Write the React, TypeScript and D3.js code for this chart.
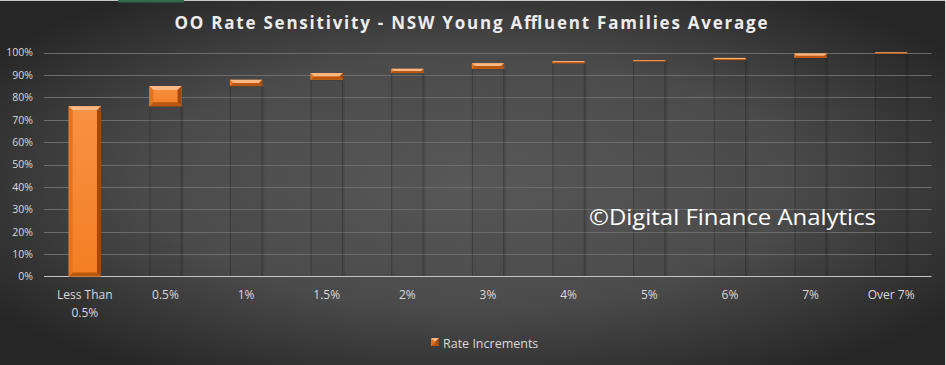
import React from "react";
import * as d3 from "d3";

const categories = ["Less Than 0.5%", "0.5%", "1%", "1.5%", "2%", "3%", "4%", "5%", "6%", "7%", "Over 7%"];
const increments = [0.76, 0.09, 0.028, 0.03, 0.019, 0.025, 0.009, 0.005, 0.01, 0.019, 0.005];
const yTicks = [0, 0.1, 0.2, 0.3, 0.4, 0.5, 0.6, 0.7, 0.8, 0.9, 1.0];
const titleText = "OO Rate Sensitivity - NSW Young Affluent Families Average";
const seriesName = "Rate Increments";
const watermark = "\u00A9Digital Finance Analytics";

const W = 946;
const H = 365;
const FONT = "'Open Sans', 'Noto Sans', sans-serif";

export default function App() {
  const x = d3.scaleBand<string>().domain(categories).range([44.5, 931.5]).paddingInner(0.6).paddingOuter(0.3);
  const y = d3.scaleLinear().domain([0, 1]).range([276.5, 52.5]);

  let cum = 0;
  const bars = categories.map((c, i) => {
    const base = cum;
    cum += increments[i];
    return { c, base, top: cum };
  });

  const bevel = (bx: number, by: number, bw: number, bh: number, key: string) => {
    const b = Math.max(0.4, Math.min(4, bh / 2, bw / 2));
    return (
      <g key={key}>
        <rect x={bx} y={by} width={bw} height={bh} fill="url(#face)" />
        <polygon points={`${bx},${by} ${bx + bw},${by} ${bx + bw - b},${by + b} ${bx + b},${by + b}`} fill="#ffb783" />
        <polygon points={`${bx},${by + bh} ${bx + bw},${by + bh} ${bx + bw - b},${by + bh - b} ${bx + b},${by + bh - b}`} fill="#b9560f" />
        <polygon points={`${bx},${by} ${bx + b},${by + b} ${bx + b},${by + bh - b} ${bx},${by + bh}`} fill="#e27423" />
        <polygon points={`${bx + bw},${by} ${bx + bw - b},${by + b} ${bx + bw - b},${by + bh - b} ${bx + bw},${by + bh}`} fill="#9c4a10" />
      </g>
    );
  };

  const bw = x.bandwidth();

  return (
    <div style={{ position: "absolute", left: 0, top: 0 }}>
      <svg width={W} height={H} xmlns="http://www.w3.org/2000/svg" style={{ display: "block" }}>
        <defs>
          <radialGradient id="bg" cx="50%" cy="50%" r="62%" fx="50%" fy="50%">
            <stop offset="0%" stopColor="#585858" />
            <stop offset="55%" stopColor="#4b4b4b" />
            <stop offset="100%" stopColor="#262626" />
          </radialGradient>
          <linearGradient id="face" x1="0" y1="0" x2="0" y2="1">
            <stop offset="0%" stopColor="#f89244" />
            <stop offset="100%" stopColor="#f47e24" />
          </linearGradient>
        </defs>
        <rect x={0} y={0} width={W} height={H} fill="url(#bg)" />
        <line x1={0} x2={W} y1={0.5} y2={0.5} stroke="#c8c8c8" />
        <rect x={118} y={0} width={66} height={2.5} fill="#2f6b4c" />
        <line x1={945.5} x2={945.5} y1={0} y2={H} stroke="#d8d8d8" />

        <text x={471} y={29} textAnchor="middle" fill="#ececec" fontFamily={FONT} fontWeight={700} fontSize={17} textLength={593} lengthAdjust="spacing">
          {titleText}
        </text>

        {yTicks.map((t) => (
          <g key={t}>
            {t > 0 && <line x1={44} x2={931.5} y1={Math.round(y(t)) + 0.5} y2={Math.round(y(t)) + 0.5} stroke="#6c6c6c" strokeWidth={1} />}
            <text x={33} y={y(t) + 3.8} textAnchor="end" fill="#d9d9d9" fontFamily={FONT} fontSize={10.5}>
              {`${Math.round(t * 100)}%`}
            </text>
          </g>
        ))}

        {bars.map((d) => {
          const bx = x(d.c)!;
          if (d.base <= 0) return null;
          return (
            <g key={"b" + d.c}>
              <rect x={bx + 0.5} y={y(d.base)} width={bw - 1} height={y(0) - y(d.base)} fill="rgba(0,0,0,0.02)" stroke="rgba(25,25,25,0.35)" strokeWidth={1} />
              <line x1={bx + bw + 1} x2={bx + bw + 1} y1={y(d.base) + 1} y2={y(0)} stroke="rgba(0,0,0,0.1)" strokeWidth={2} />
            </g>
          );
        })}

        <line x1={44} x2={931.5} y1={276.5} y2={276.5} stroke="#c4c4c4" strokeWidth={1} />

        {bars.map((d) => {
          const bx = x(d.c)!;
          const y1 = y(d.top);
          const h = Math.max(1.2, y(d.base) - y1);
          return bevel(bx, y1, bw, h, "o" + d.c);
        })}

        {categories.map((c) => {
          const cx = x(c)! + bw / 2;
          const lines = c === "Less Than 0.5%" ? ["Less Than", "0.5%"] : [c];
          return (
            <text key={"l" + c} x={cx} textAnchor="middle" fill="#d9d9d9" fontFamily={FONT} fontSize={12}>
              {lines.map((ln, j) => (
                <tspan key={j} x={cx} y={299 + j * 18}>
                  {ln}
                </tspan>
              ))}
            </text>
          );
        })}

        <text x={589} y={225} fill="#ffffff" fontFamily={FONT} fontSize={21.5} textLength={287} lengthAdjust="spacingAndGlyphs">
          {watermark}
        </text>

        {bevel(431, 338, 8, 8, "legend")}
        <text x={443} y={347.5} fill="#d9d9d9" fontFamily={FONT} fontSize={12.5}>
          {seriesName}
        </text>
      </svg>
    </div>
  );
}
